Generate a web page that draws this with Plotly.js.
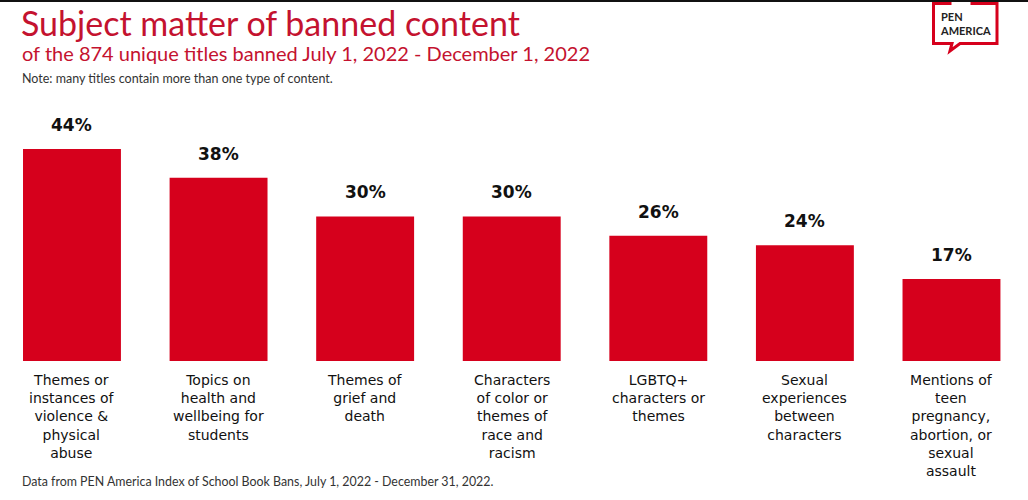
<!DOCTYPE html>
<html>
<head>
<meta charset="utf-8">
<script src="https://cdn.plot.ly/plotly-3.0.1.min.js"></script>
<style>html,body{margin:0;padding:0;background:#fff;}#chart{width:1028px;height:500px;}</style>
</head>
<body>
<div id="chart"></div>
<script>
const categories = [
  "Themes or<br>instances of<br>violence &amp;<br>physical<br>abuse",
  "Topics on<br>health and<br>wellbeing for<br>students",
  "Themes of<br>grief and<br>death",
  "Characters<br>of color or<br>themes of<br>race and<br>racism",
  "LGBTQ+<br>characters or<br>themes",
  "Sexual<br>experiences<br>between<br>characters",
  "Mentions of<br>teen<br>pregnancy,<br>abortion, or<br>sexual<br>assault"
];
const values = [44, 38, 30, 30, 26, 24, 17];
const valueLabels = values.map(v => v + "%");

const RED = "#d6001c";
const TITLE_RED = "#c4122f";
const FONT = "Lato, 'Open Sans', sans-serif";
const LFONT = "'DejaVu Sans', Verdana, sans-serif";

const xIdx = categories.map((c, i) => i);

const trace = {
  type: "bar",
  x: xIdx,
  y: values,
  marker: {color: RED},
  hoverinfo: "skip"
};

const annotations = [];
values.forEach((v, i) => {
  annotations.push({
    x: i, y: v, xref: "x", yref: "y",
    text: "<b>" + valueLabels[i] + "</b>",
    showarrow: false, yanchor: "bottom", yshift: 12,
    font: {family: LFONT, size: 17, color: "#111"}
  });
  annotations.push({
    x: i, y: 0, xref: "x", yref: "y",
    text: categories[i],
    showarrow: false, yanchor: "top", yshift: -9, align: "center",
    font: {family: LFONT, size: 14, color: "#111"}
  });
});

// titles
annotations.push({
  xref: "paper", yref: "paper", x: 0, y: 1, xanchor: "left", yanchor: "top",
  xshift: 19, yshift: 100,
  text: "Subject matter of banned content",
  showarrow: false, font: {family: FONT, size: 34, color: TITLE_RED}
});
annotations.push({
  xref: "paper", yref: "paper", x: 0, y: 1, xanchor: "left", yanchor: "top",
  xshift: 20, yshift: 61,
  text: "of the 874 unique titles banned July 1, 2022 - December 1, 2022",
  showarrow: false, font: {family: FONT, size: 20, color: TITLE_RED}
});
annotations.push({
  xref: "paper", yref: "paper", x: 0, y: 1, xanchor: "left", yanchor: "top",
  xshift: 20, yshift: 31,
  text: "Note: many titles contain more than one type of content.",
  showarrow: false, font: {family: FONT, size: 12.5, color: "#333"}
});
annotations.push({
  xref: "paper", yref: "paper", x: 0, y: 0, xanchor: "left", yanchor: "top",
  xshift: 20, yshift: -111,
  text: "Data from PEN America Index of School Book Bans, July 1, 2022 - December 31, 2022.",
  showarrow: false, font: {family: FONT, size: 12.4, color: "#333"}
});
// logo text
annotations.push({
  xref: "paper", yref: "paper", x: 1, y: 1, xanchor: "left", yanchor: "top",
  xshift: -90, yshift: 92,
  text: "<b>PEN<br>AMERICA</b>", align: "left",
  showarrow: false, font: {family: FONT, size: 11, color: "#222"}
});

// logo shapes in pixel coordinates converted to paper
const W = 1028, H = 500, ML = 0, MR = 0, MT = 100, MB = 139;
const pw = W - ML - MR, ph = H - MT - MB;
const px = x => (x - ML) / pw;
const py = y => (H - MB - y) / ph;
const logoPath = [
  "M", px(951.5), py(3.5), "L", px(933.5), py(3.5), "L", px(933.5), py(43.5),
  "L", px(952), py(43.5), "L", px(950), py(51), "L", px(960), py(43.5),
  "L", px(997), py(43.5), "L", px(997), py(3.5), "L", px(970.5), py(3.5)
];
let d = "";
for (let i = 0; i < logoPath.length; i += 3) {
  d += logoPath[i] + " " + logoPath[i + 1] + "," + logoPath[i + 2] + " ";
}

const shapes = [
  {type: "rect", xref: "paper", yref: "paper", x0: px(0), x1: px(1028), y0: py(2), y1: py(-1),
   fillcolor: "#111", line: {width: 0}},
  {type: "path", xref: "paper", yref: "paper", path: d, line: {color: "#d6001c", width: 3}}
];

const layout = {
  width: W, height: H,
  margin: {l: ML, r: MR, t: MT, b: MB, pad: 0},
  paper_bgcolor: "#fff", plot_bgcolor: "#fff",
  bargap: 0.332,
  showlegend: false,
  xaxis: {range: [-0.491, 6.522], showticklabels: false, showgrid: false, zeroline: false, showline: false, ticks: "", fixedrange: true},
  yaxis: {range: [0, 54.15], showticklabels: false, showgrid: false, zeroline: false, showline: false, ticks: "", fixedrange: true},
  annotations: annotations,
  shapes: shapes,
  font: {family: FONT}
};

Plotly.newPlot("chart", [trace], layout, {displayModeBar: false, staticPlot: true});
</script>
</body>
</html>
